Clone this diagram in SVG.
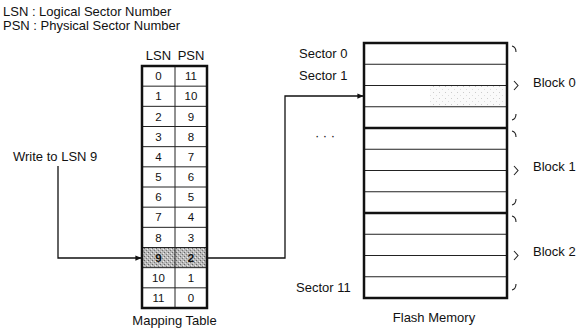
<svg xmlns="http://www.w3.org/2000/svg" width="579" height="332" viewBox="0 0 579 332">
<style>
text{font-family:"Liberation Sans",Arial,sans-serif;font-size:13px;fill:#111}
.cell{font-size:11.5px;text-anchor:middle}
.thick{stroke:#111;stroke-width:2.5;fill:none}
.thin{stroke:#222;stroke-width:1;fill:none}
.conn{stroke:#111;stroke-width:1.3;fill:none}
.brace{stroke:#222;stroke-width:1.1;fill:none}
</style>
<defs>
<marker id="ah" viewBox="0 0 8 8" refX="7.5" refY="4" markerWidth="6" markerHeight="6" orient="auto" markerUnits="userSpaceOnUse">
<path d="M0,0.5 L8,4 L0,7.5 Z" fill="#111"/>
</marker>
<pattern id="stip" width="4" height="4" patternUnits="userSpaceOnUse">
<rect width="4" height="4" fill="#b8b8b8"/>
<rect x="0" y="0" width="1" height="1" fill="#666"/>
<rect x="2" y="2" width="1" height="1" fill="#777"/>
<rect x="3" y="1" width="1" height="1" fill="#eee"/>
<rect x="1" y="3" width="1" height="1" fill="#ddd"/>
</pattern>
<pattern id="faint" width="6" height="6" patternUnits="userSpaceOnUse">
<rect width="6" height="6" fill="#fafafa"/>
<rect x="1" y="2" width="1" height="1" fill="#ccc"/>
<rect x="4" y="5" width="1" height="1" fill="#ddd"/>
</pattern>
</defs>

<g id="legend">
<text x="3" y="16">LSN : Logical Sector Number</text>
<text x="3" y="30">PSN : Physical Sector Number</text>
</g>

<g id="write-label">
<text x="13" y="161">Write to LSN 9</text>
</g>

<g id="mapping-table">
<text x="158.5" y="60" text-anchor="middle">LSN</text>
<text x="191" y="60" text-anchor="middle">PSN</text>
<rect x="142" y="247.5" width="65" height="20.17" fill="url(#stip)"/>
<g class="thin">
<line x1="142" y1="86.17" x2="207" y2="86.17"/>
<line x1="142" y1="106.33" x2="207" y2="106.33"/>
<line x1="142" y1="126.5" x2="207" y2="126.5"/>
<line x1="142" y1="146.67" x2="207" y2="146.67"/>
<line x1="142" y1="166.83" x2="207" y2="166.83"/>
<line x1="142" y1="187" x2="207" y2="187"/>
<line x1="142" y1="207.17" x2="207" y2="207.17"/>
<line x1="142" y1="227.33" x2="207" y2="227.33"/>
<line x1="142" y1="247.5" x2="207" y2="247.5"/>
<line x1="142" y1="267.67" x2="207" y2="267.67"/>
<line x1="142" y1="287.83" x2="207" y2="287.83"/>
<line x1="175" y1="66" x2="175" y2="308"/>
</g>
<rect x="142" y="66" width="65" height="242" class="thick"/>
<g class="cell">
<text class="cell" x="158.5" y="80.2">0</text><text class="cell" x="191" y="80.2">11</text>
<text class="cell" x="158.5" y="100.4">1</text><text class="cell" x="191" y="100.4">10</text>
<text class="cell" x="158.5" y="120.5">2</text><text class="cell" x="191" y="120.5">9</text>
<text class="cell" x="158.5" y="140.7">3</text><text class="cell" x="191" y="140.7">8</text>
<text class="cell" x="158.5" y="160.9">4</text><text class="cell" x="191" y="160.9">7</text>
<text class="cell" x="158.5" y="181">5</text><text class="cell" x="191" y="181">6</text>
<text class="cell" x="158.5" y="201.2">6</text><text class="cell" x="191" y="201.2">5</text>
<text class="cell" x="158.5" y="221.4">7</text><text class="cell" x="191" y="221.4">4</text>
<text class="cell" x="158.5" y="241.5">8</text><text class="cell" x="191" y="241.5">3</text>
<text class="cell" x="158.5" y="261.7" font-weight="bold">9</text><text class="cell" x="191" y="261.7" font-weight="bold">2</text>
<text class="cell" x="158.5" y="281.9">10</text><text class="cell" x="191" y="281.9">1</text>
<text class="cell" x="158.5" y="302">11</text><text class="cell" x="191" y="302">0</text>
</g>
<text x="174.5" y="325" text-anchor="middle">Mapping Table</text>
</g>

<g id="flash-memory">
<rect x="430" y="86" width="75" height="20.5" fill="url(#faint)"/>
<g class="thin">
<line x1="364" y1="64.25" x2="507" y2="64.25"/>
<line x1="364" y1="85.5" x2="507" y2="85.5"/>
<line x1="364" y1="106.75" x2="507" y2="106.75"/>
<line x1="364" y1="149.25" x2="507" y2="149.25"/>
<line x1="364" y1="170.5" x2="507" y2="170.5"/>
<line x1="364" y1="191.75" x2="507" y2="191.75"/>
<line x1="364" y1="234.25" x2="507" y2="234.25"/>
<line x1="364" y1="255.5" x2="507" y2="255.5"/>
<line x1="364" y1="276.75" x2="507" y2="276.75"/>
</g>
<line x1="364" y1="128" x2="507" y2="128" class="thick"/>
<line x1="364" y1="213" x2="507" y2="213" class="thick"/>
<rect x="364" y="43" width="143" height="255" class="thick"/>
<text x="299" y="58">Sector 0</text>
<text x="299" y="79.5">Sector 1</text>
<text x="296" y="292">Sector 11</text>
<text x="325" y="140" text-anchor="middle">· · ·</text>
<text x="434" y="322" text-anchor="middle">Flash Memory</text>
</g>

<g id="block-0">
<path class="brace" d="M512,46 q4,1 4,6"/>
<path class="brace" d="M514,81 L518,85.5 L514,90"/>
<path class="brace" d="M516,114 q0,5 -4,6"/>
<text x="533" y="86.5">Block 0</text>
</g>
<g id="block-1">
<path class="brace" d="M512,131 q4,1 4,6"/>
<path class="brace" d="M514,166 L518,170.5 L514,175"/>
<path class="brace" d="M516,199 q0,5 -4,6"/>
<text x="533" y="171">Block 1</text>
</g>
<g id="block-2">
<path class="brace" d="M512,216 q4,1 4,6"/>
<path class="brace" d="M514,251 L518,255.5 L514,260"/>
<path class="brace" d="M516,284 q0,5 -4,6"/>
<text x="533" y="256">Block 2</text>
</g>

<g id="connectors">
<path class="conn" d="M58,166 V258 H141" marker-end="url(#ah)"/>
<path class="conn" d="M207,258 H285 V96 H363" marker-end="url(#ah)"/>
</g>
</svg>
